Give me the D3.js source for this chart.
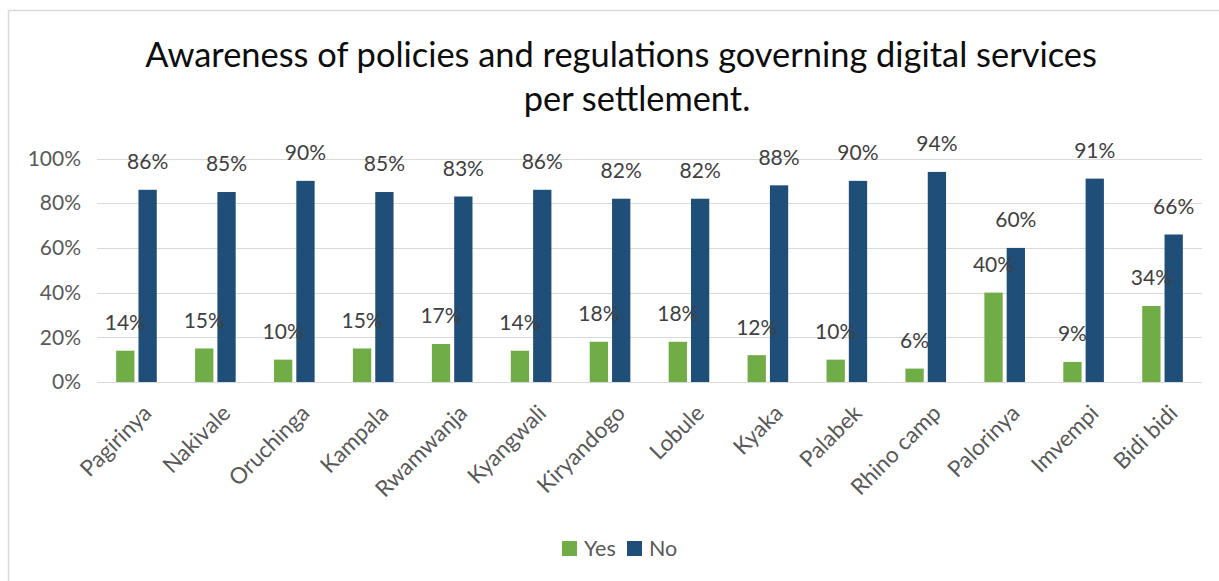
<!DOCTYPE html>
<html>
<head>
<meta charset="utf-8">
<script src="https://cdn.jsdelivr.net/npm/d3@7"></script>
<style>
  html, body { margin: 0; padding: 0; background: #ffffff; }
  svg { display: block; }
  text { font-family: Lato, "Open Sans", sans-serif; }
</style>
</head>
<body>
<svg id="chart" width="1219" height="581"></svg>
<script>
// Settlements and survey answers (share of respondents)
const settlements = ["Pagirinya", "Nakivale", "Oruchinga", "Kampala", "Rwamwanja", "Kyangwali",
  "Kiryandogo", "Lobule", "Kyaka", "Palabek", "Rhino camp", "Palorinya", "Imvempi", "Bidi bidi"];
const yesValues = [14, 15, 10, 15, 17, 14, 18, 18, 12, 10, 6, 40, 9, 34];
const noValues  = [86, 85, 90, 85, 83, 86, 82, 82, 88, 90, 94, 60, 91, 66];
const seriesNames = ["Yes", "No"];
const seriesColors = ["#70AD47", "#1F4E79"];
const yTicks = [0, 20, 40, 60, 80, 100];
const titleLines = ["Awareness of policies and regulations governing digital services", "per settlement."];

const svg = d3.select("#chart");
const W = 1219, H = 581;
const plot = { left: 97, right: 1202, top: 158.5, bottom: 382 };

// Outer chart frame
svg.append("rect")
  .attr("x", 8.5).attr("y", 10.5)
  .attr("width", W + 20).attr("height", H + 20)
  .attr("fill", "#ffffff").attr("stroke", "#d9d9d9").attr("stroke-width", 1.5);

// Title, fitted to its line width
const titleG = svg.append("g");
const t1 = titleG.append("text")
  .attr("x", 621).attr("y", 67)
  .attr("text-anchor", "middle")
  .attr("fill", "#0d0d0d")
  .style("font-size", "30px")
  .text(titleLines[0]);
const w1 = t1.node().getComputedTextLength();
const titleSize = 30 * 952 / w1;
t1.style("font-size", titleSize + "px");
titleG.append("text")
  .attr("x", 637).attr("y", 111)
  .attr("text-anchor", "middle")
  .attr("fill", "#0d0d0d")
  .style("font-size", titleSize + "px")
  .text(titleLines[1]);

// Scales
const x0 = d3.scaleBand().domain(settlements).range([plot.left, plot.right]).paddingInner(0).paddingOuter(0);
const groupW = 40.6;
const x1 = d3.scaleBand().domain(seriesNames)
  .range([x0.bandwidth() / 2 - groupW / 2, x0.bandwidth() / 2 + groupW / 2])
  .paddingInner(0.18).paddingOuter(0);
const y = d3.scaleLinear().domain([0, 100]).range([plot.bottom, plot.top]);
const color = d3.scaleOrdinal().domain(seriesNames).range(seriesColors);

// Gridlines
svg.append("g")
  .selectAll("line")
  .data(yTicks)
  .join("line")
  .attr("x1", plot.left).attr("x2", plot.right)
  .attr("y1", d => Math.round(y(d)) + 0.5).attr("y2", d => Math.round(y(d)) + 0.5)
  .attr("stroke", "#d9d9d9").attr("stroke-width", 1.2);

// Y axis labels
const yAxis = d3.axisLeft(y).tickValues(yTicks).tickFormat(d => d + "%").tickSize(0).tickPadding(0);
const yG = svg.append("g").attr("transform", `translate(81,0)`).call(yAxis);
yG.select(".domain").remove();
yG.selectAll("text")
  .attr("fill", "#595959")
  .style("font-size", "21px")
  .style("font-family", "Lato, 'Open Sans', sans-serif");

// Bars
const rows = settlements.map((s, i) => ({ settlement: s, values: [
  { key: "Yes", value: yesValues[i] },
  { key: "No", value: noValues[i] }
]}));

const groups = svg.append("g")
  .selectAll("g")
  .data(rows)
  .join("g")
  .attr("transform", d => `translate(${x0(d.settlement)},0)`);

groups.selectAll("rect")
  .data(d => d.values)
  .join("rect")
  .attr("x", d => x1(d.key))
  .attr("width", x1.bandwidth())
  .attr("y", d => y(d.value))
  .attr("height", d => y(0) - y(d.value))
  .attr("fill", d => color(d.key));

// Value labels
groups.selectAll("text.val")
  .data(d => d.values)
  .join("text")
  .attr("class", "val")
  .attr("x", d => x1(d.key) + x1.bandwidth() / 2)
  .attr("y", d => y(d.value) - 28)
  .attr("dy", "0.35em")
  .attr("text-anchor", "middle")
  .attr("fill", "#404040")
  .style("font-size", "21px")
  .text(d => d.value + "%");

// Category labels, rotated
const xAxis = d3.axisBottom(x0).tickSize(0).tickPadding(0);
const xG = svg.append("g").attr("transform", `translate(0,${plot.bottom})`).call(xAxis);
xG.select(".domain").remove();
xG.selectAll("text")
  .attr("fill", "#595959")
  .style("font-size", "22.5px")
  .style("font-family", "Lato, 'Open Sans', sans-serif")
  .attr("text-anchor", "end")
  .attr("dy", "0.35em")
  .attr("transform", "translate(11,27) rotate(-45)");

// Legend
const legend = svg.append("g").attr("transform", "translate(562,541)");
const legendItems = [{ key: "Yes", x: 0 }, { key: "No", x: 65 }];
const li = legend.selectAll("g").data(legendItems).join("g").attr("transform", d => `translate(${d.x},0)`);
li.append("rect").attr("width", 15).attr("height", 15).attr("fill", d => color(d.key));
li.append("text")
  .attr("x", 22).attr("y", 7.5).attr("dy", "0.35em")
  .attr("fill", "#595959")
  .style("font-size", "21.5px")
  .text(d => d.key);
</script>
</body>
</html>
